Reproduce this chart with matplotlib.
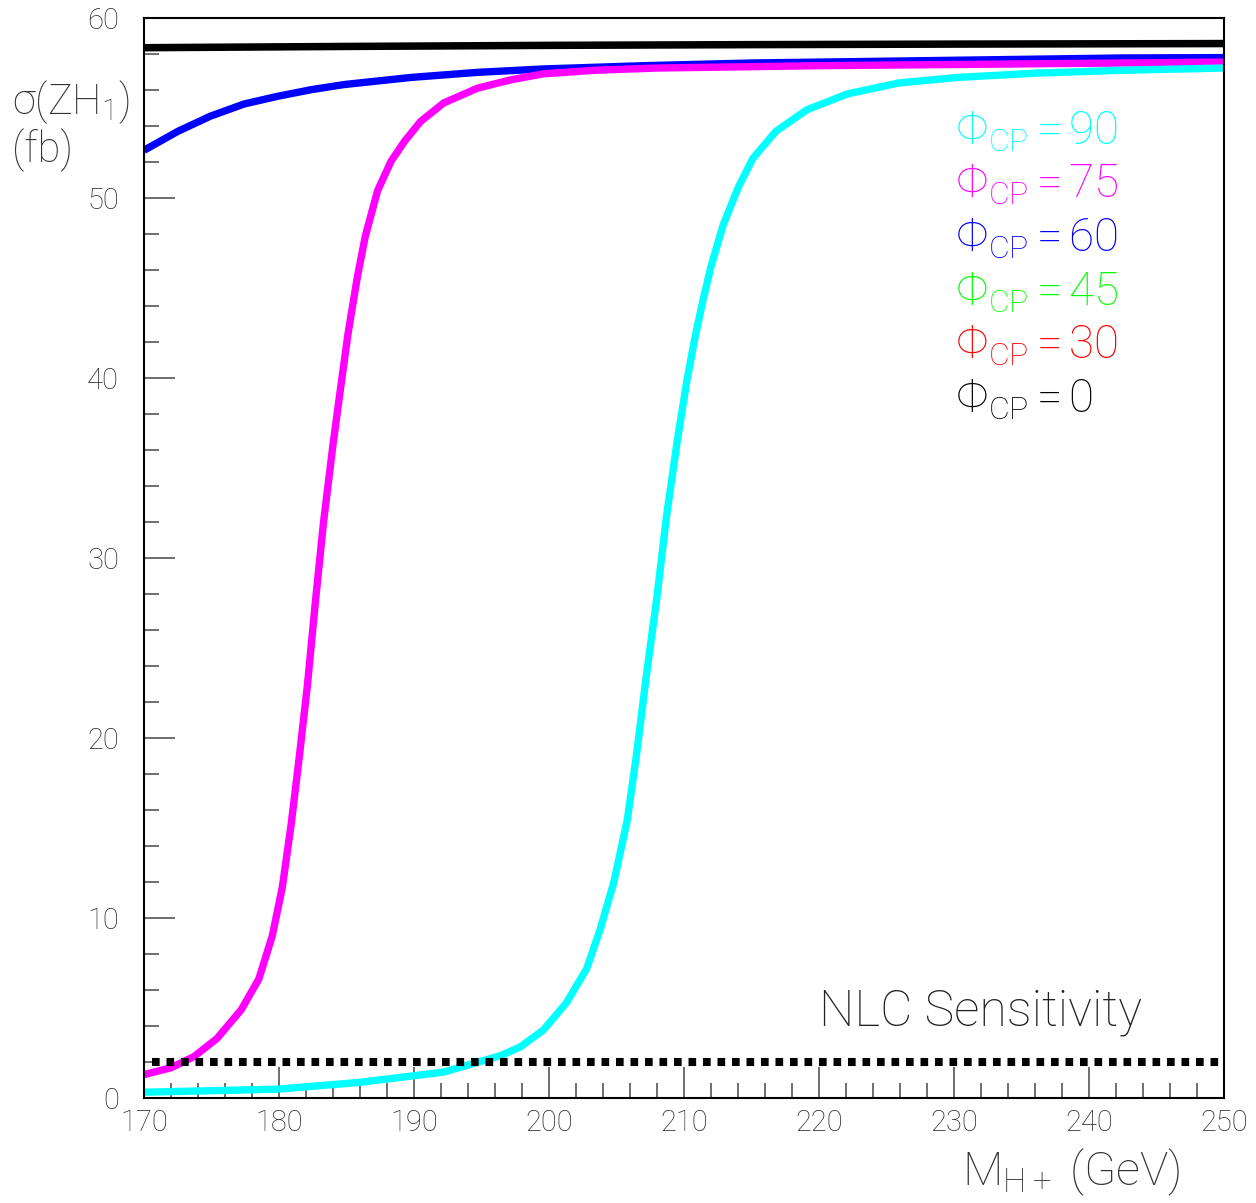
import numpy as np
import matplotlib
matplotlib.use("Agg")
import matplotlib.pyplot as plt
from matplotlib.ticker import MultipleLocator

plt.rcParams['font.family'] = ['Roboto', 'DejaVu Sans']
plt.rcParams['font.weight'] = 'light'
plt.rcParams['mathtext.fontset'] = 'custom'
plt.rcParams['mathtext.rm'] = 'Roboto:light'
plt.rcParams['mathtext.it'] = 'Roboto:light'
plt.rcParams['mathtext.sf'] = 'Roboto:light'

# masses (GeV) and cross sections (fb)
m_phi0 = [170, 185, 200, 215, 230, 250]
s_phi0 = [58.35, 58.42, 58.48, 58.52, 58.55, 58.58]

m_phi60 = [170, 172.5, 174.9, 177.4, 179.9, 182.4, 184.8, 189.8, 194.7, 199.6, 207.0, 215, 225, 242.5, 250]
s_phi60 = [52.65, 53.7, 54.54, 55.22, 55.65, 56.02, 56.3, 56.7, 56.98, 57.17, 57.35, 57.5, 57.6, 57.78, 57.8]

m_phi75 = [170, 172.0, 173.7, 175.4, 177.2, 178.5, 179.5, 180.25, 180.9, 181.5, 182.1, 182.7,
           183.3, 184.0, 184.5, 185.1, 185.8, 186.4, 187.3, 188.3, 189.3, 190.5, 192.2,
           194.7, 197.2, 199.6, 203.5, 208, 220, 242.5, 250]
s_phi75 = [1.3, 1.68, 2.3, 3.3, 4.9, 6.6, 9.0, 11.73, 15.2, 18.93, 22.9, 27.6,
           32.0, 36.3, 39.1, 42.4, 45.6, 47.9, 50.4, 52.04, 53.15, 54.26, 55.28,
           56.1, 56.57, 56.9, 57.1, 57.22, 57.35, 57.5, 57.55]

m_phi90 = [170, 179.9, 186.0, 192.2, 196.4, 197.9, 199.6, 201.3, 202.8, 203.8, 204.8, 205.8,
           206.5, 207.2, 208.0, 208.7, 209.5, 210.2, 210.8, 211.4, 212.0, 212.9, 214.0,
           215.1, 216.8, 219.1, 222.1, 225.9, 230.3, 236.2, 242.1, 250]
s_phi90 = [0.32, 0.49, 0.87, 1.44, 2.35, 2.85, 3.79, 5.3, 7.2, 9.4, 11.98, 15.45,
           19.18, 23.4, 27.86, 32.3, 36.5, 39.8, 42.2, 44.3, 46.2, 48.5, 50.56,
           52.2, 53.7, 54.9, 55.78, 56.39, 56.7, 56.94, 57.09, 57.22]

sens_m = [170.6, 250]
sens_s = [2.0, 2.0]

legend_vals = ['90', '75', '60', '45', '30', '0']
legend_cols = ['#00ffff', '#ff00ff', '#0000ff', '#00ff00', '#ff0000', '#000000']

fig = plt.figure(figsize=(12.56, 12.03), dpi=100)
ax = fig.add_axes([144/1256, 1 - 1098/1203, 1080/1256, 1080/1203])

ax.plot(m_phi0, s_phi0, color='black', lw=5.4, solid_capstyle='butt')
ax.plot(m_phi60, s_phi60, color='#0000ff', lw=5.3, solid_capstyle='butt')
ax.plot(m_phi75, s_phi75, color='#ff00ff', lw=5.3, solid_capstyle='butt')
ax.plot(m_phi90, s_phi90, color='#00ffff', lw=5.3, solid_capstyle='butt')
ax.plot(sens_m, sens_s, color='black', lw=5.8,
        linestyle=(0, (0.95, 0.85)), dash_capstyle='butt')

ax.set_xlim(170, 250)
ax.set_ylim(0, 60)
ax.xaxis.set_major_locator(MultipleLocator(10))
ax.xaxis.set_minor_locator(MultipleLocator(2))
ax.yaxis.set_major_locator(MultipleLocator(10))
ax.yaxis.set_minor_locator(MultipleLocator(2))
ax.tick_params(which='both', direction='in', color='#555555', width=1.2,
               top=False, right=False, labelcolor='#2a2a2a', labelsize=21)
ax.tick_params(axis='x', which='major', pad=8)
ax.tick_params(axis='y', which='major', pad=18)
ax.tick_params(which='major', length=22)
ax.tick_params(which='minor', length=11)
for sp in ax.spines.values():
    sp.set_linewidth(1.5)

for i, (v, c) in enumerate(zip(legend_vals, legend_cols)):
    ax.text(0.751, 0.895 - i * 0.0497, r'$\Phi_{\rm CP}\,$=$\,$' + v, color=c, fontsize=33,
            transform=ax.transAxes, va='center', ha='left')

ax.text(0.625, 0.079, 'NLC Sensitivity', color='#222222', fontsize=36,
        transform=ax.transAxes, va='center', ha='left')

fig.text(12/1256, 1 - 102/1203, r'$\sigma$(ZH$_1$)', fontsize=30, color='#333333',
         va='center', ha='left')
fig.text(12/1256, 1 - 150/1203, '(fb)', fontsize=30, color='#333333',
         va='center', ha='left')
fig.text(1180/1256, 1 - 1172/1203, r'M$_{\rm H+}$ (GeV)', fontsize=34, color='#333333',
         va='center', ha='right')

fig.savefig('out.png', dpi=100)
